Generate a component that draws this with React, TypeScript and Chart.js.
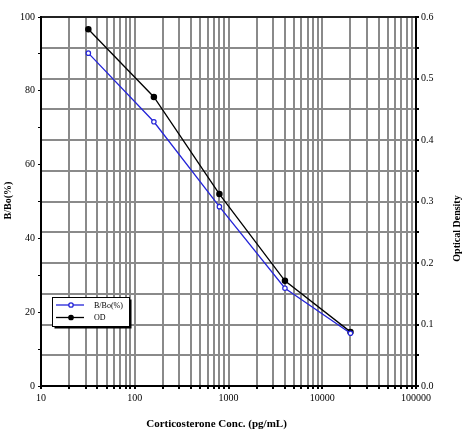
import React, { useEffect, useRef } from "react";
import { Chart, registerables } from "chart.js";

Chart.register(...registerables);

const concentrations = [32, 160, 800, 4000, 20000];
const bBoPercent = [90.2, 71.6, 48.6, 26.5, 14.3];
const opticalDensity = [0.58, 0.47, 0.312, 0.171, 0.088];
const decades = [10, 100, 1000, 10000, 100000];
const seriesLabels = ["B/Bo(%)", "OD"];
const axisTitles = {
  x: "Corticosterone Conc. (pg/mL)",
  y: "B/Bo(%)",
  y1: "Optical Density",
};

const FONT = "'Liberation Serif', 'Times New Roman', serif";
const BLUE = "#2424d8";
const BLACK = "#000000";
const GRID = "#8a8a8a";

const isPow10 = (v: number) => decades.some((d) => Math.abs(d - v) < 1e-6);

const logTicks = () => {
  const out: { value: number; major: boolean }[] = [];
  for (let i = 0; i < decades.length - 1; i++) {
    for (let m = 1; m <= 9; m++) out.push({ value: decades[i] * m, major: m === 1 });
  }
  out.push({ value: decades[decades.length - 1], major: true });
  return out;
};

const framePlugin = {
  id: "frame",
  afterDraw(chart: any) {
    const { ctx, chartArea: a } = chart;
    ctx.save();
    ctx.strokeStyle = BLACK;
    ctx.lineWidth = 1.5;
    ctx.beginPath();
    ctx.moveTo(a.left, a.top);
    ctx.lineTo(a.right, a.top);
    ctx.stroke();
    ctx.restore();
  },
};

const titlesPlugin = {
  id: "axisTitles",
  afterDraw(chart: any) {
    const { ctx, chartArea: a } = chart;
    ctx.save();
    ctx.fillStyle = BLACK;
    ctx.textAlign = "center";
    ctx.textBaseline = "middle";
    ctx.font = `bold 11px ${FONT}`;
    ctx.fillText(axisTitles.x, (a.left + a.right) / 2 - 12, a.bottom + 38);
    ctx.font = `bold 10px ${FONT}`;
    ctx.save();
    ctx.translate(a.left - 33, (a.top + a.bottom) / 2 - 1);
    ctx.rotate(-Math.PI / 2);
    ctx.fillText(axisTitles.y, 0, 0);
    ctx.restore();
    ctx.save();
    ctx.translate(a.right + 41, (a.top + a.bottom) / 2 + 27);
    ctx.rotate(-Math.PI / 2);
    ctx.fillText(axisTitles.y1, 0, 0);
    ctx.restore();
    ctx.restore();
  },
};

const legendPlugin = {
  id: "insideLegend",
  afterDraw(chart: any) {
    const { ctx, chartArea: a } = chart;
    const x = a.left + 11;
    const y = a.bottom - 89;
    const w = 77;
    const h = 29;
    ctx.save();
    ctx.fillStyle = BLACK;
    ctx.fillRect(x + 2.5, y + 2.5, w, h);
    ctx.fillStyle = "#ffffff";
    ctx.fillRect(x, y, w, h);
    ctx.strokeStyle = BLACK;
    ctx.lineWidth = 1;
    ctx.strokeRect(x + 0.5, y + 0.5, w, h);
    const rows = [
      { label: seriesLabels[0], color: BLUE, fill: "#ffffff", ry: y + 8 },
      { label: seriesLabels[1], color: BLACK, fill: BLACK, ry: y + 20.5 },
    ];
    rows.forEach((r) => {
      ctx.strokeStyle = r.color;
      ctx.lineWidth = 1.3;
      ctx.beginPath();
      ctx.moveTo(x + 4, r.ry);
      ctx.lineTo(x + 32, r.ry);
      ctx.stroke();
      ctx.beginPath();
      ctx.arc(x + 19, r.ry, 2.2, 0, Math.PI * 2);
      ctx.fillStyle = r.fill;
      ctx.fill();
      ctx.stroke();
      ctx.fillStyle = BLACK;
      ctx.font = `8px ${FONT}`;
      ctx.textBaseline = "middle";
      ctx.textAlign = "left";
      ctx.fillText(r.label, x + 42, r.ry + 0.5);
    });
    ctx.restore();
  },
};

export default function App() {
  const ref = useRef<HTMLCanvasElement | null>(null);

  useEffect(() => {
    if (!ref.current) return;
    const chart = new Chart(ref.current, {
      type: "line",
      data: {
        datasets: [
          {
            label: seriesLabels[0],
            data: concentrations.map((c, i) => ({ x: c, y: bBoPercent[i] })),
            borderColor: BLUE,
            backgroundColor: "#ffffff",
            pointBackgroundColor: "#ffffff",
            pointBorderColor: BLUE,
            pointRadius: 2.2,
            pointBorderWidth: 1.2,
            borderWidth: 1.3,
            yAxisID: "y",
            tension: 0,
          },
          {
            label: seriesLabels[1],
            data: concentrations.map((c, i) => ({ x: c, y: opticalDensity[i] })),
            borderColor: BLACK,
            backgroundColor: BLACK,
            pointBackgroundColor: BLACK,
            pointBorderColor: BLACK,
            pointRadius: 2.6,
            borderWidth: 1.3,
            yAxisID: "y1",
            tension: 0,
          },
        ],
      },
      options: {
        responsive: false,
        animation: false,
        layout: { padding: { top: 17, left: 0, right: 0, bottom: 0 } },
        plugins: {
          legend: { display: false },
          tooltip: { enabled: false },
        },
        scales: {
          x: {
            type: "logarithmic",
            position: "bottom",
            min: 10,
            max: 100000,
            afterBuildTicks: (axis: any) => {
              axis.ticks = logTicks();
            },
            afterFit: (s: any) => {
              s.height = 47;
            },
            ticks: {
              autoSkip: false,
              maxRotation: 0,
              color: BLACK,
              padding: 3,
              font: { family: FONT, size: 10 },
              callback: (v: any) => (isPow10(Number(v)) ? String(Number(v)) : ""),
            },
            grid: {
              color: GRID,
              lineWidth: 2,
              drawTicks: true,
              tickLength: 3,
              tickColor: BLACK,
            },
            border: { display: true, color: BLACK, width: 2 },
            title: { display: false },
          },
          y: {
            type: "linear",
            position: "left",
            min: 0,
            max: 100,
            afterFit: (s: any) => {
              s.width = 41;
            },
            ticks: {
              stepSize: 10,
              color: BLACK,
              padding: 3,
              font: { family: FONT, size: 10 },
              callback: (v: any) => (Math.round(Number(v)) % 20 === 0 ? String(v) : ""),
            },
            grid: {
              drawOnChartArea: false,
              drawTicks: true,
              tickLength: 3,
              tickColor: BLACK,
            },
            border: { display: true, color: BLACK, width: 2 },
            title: { display: false },
          },
          y1: {
            type: "linear",
            position: "right",
            min: 0,
            max: 0.6,
            afterFit: (s: any) => {
              s.width = 51;
            },
            ticks: {
              stepSize: 0.05,
              color: BLACK,
              padding: 2,
              font: { family: FONT, size: 10 },
              callback: (v: any) => {
                const n = Math.round(Number(v) * 100);
                return n % 10 === 0 ? (n / 100).toFixed(1) : "";
              },
            },
            grid: {
              drawOnChartArea: true,
              color: GRID,
              lineWidth: 2,
              drawTicks: true,
              tickLength: 3,
              tickColor: BLACK,
            },
            border: { display: true, color: BLACK, width: 2 },
            title: { display: false },
          },
        },
      },
      plugins: [framePlugin, titlesPlugin, legendPlugin],
    } as any);
    return () => chart.destroy();
  }, []);

  return (
    <div style={{ position: "absolute", left: 0, top: 0, width: 467, height: 433, background: "#ffffff" }}>
      <canvas ref={ref} width={467} height={433} style={{ width: 467, height: 433, display: "block" }} />
    </div>
  );
}
